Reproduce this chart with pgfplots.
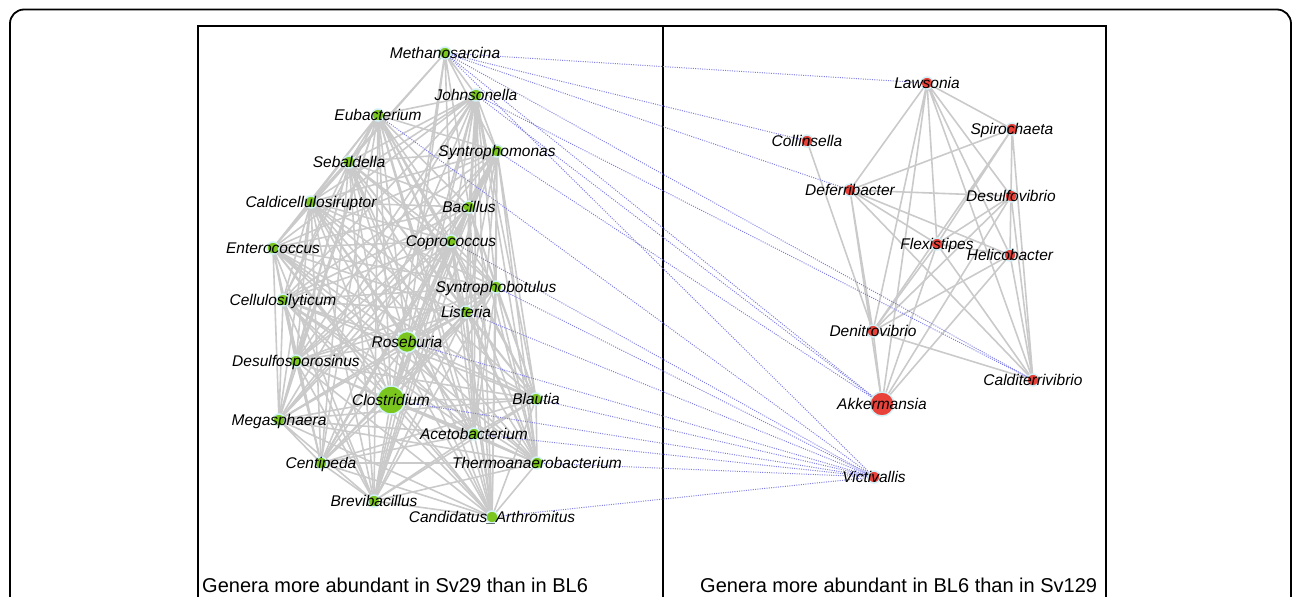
\documentclass[border=0pt]{standalone}
\usepackage{pgfplots}
\pgfplotsset{compat=1.18}
\usepackage{fontspec}
\setmainfont{Liberation Sans}
\definecolor{gnode}{RGB}{122,197,30}
\definecolor{rnode}{RGB}{232,66,58}
\definecolor{halo}{RGB}{210,240,246}
\definecolor{edgegray}{RGB}{202,202,202}
\definecolor{dotblue}{RGB}{125,125,228}
\pgfplotsset{
  gedge/.style={draw=edgegray, line width=1.6pt, line join=round, line cap=round},
  bedge/.style={draw=dotblue, line width=1pt, dash pattern=on 1pt off 1.3pt},
  netnode/.style={only marks, mark=*, mark options={draw=halo, line width=1.5pt, fill=#1},
    point meta=explicit symbolic, nodes near coords,
    every node near coord/.append style={font=\fontsize{15.5}{16}\selectfont\itshape, anchor=base, yshift=-5.5pt, inner sep=0pt, text=black}},
}
\begin{document}
\begin{tikzpicture}
\useasboundingbox (0,0) rectangle (1296pt,597pt);
\clip (0,0) rectangle (1296pt,597pt);
\begin{axis}[
  at={(0,0)}, anchor=south west,
  width=1296pt, height=597pt, scale only axis,
  xmin=0, xmax=1296, ymin=0, ymax=597, y dir=reverse,
  hide axis, clip=false,
]
% frames
\draw[line width=1.8pt, rounded corners=14pt] (axis cs:10,9.5) rectangle (axis cs:1291,660);
\draw[line width=1.4pt] (axis cs:198,650) -- (axis cs:198,26) -- (axis cs:1106,26) -- (axis cs:1106,650);
\draw[line width=1.4pt] (axis cs:663,26) -- (axis cs:663,650);

% ---- gray edges, left network (Sv29) ----
\addplot[gedge] coordinates {(445,53) (476,95) (445,53) (497,151) (445,53) (469,207) (445,53) (451,241) (445,53) (407,342) (445,53) (391,400) (445,53) (349,162) (445,53) (311,202)};
\addplot[gedge] coordinates {(476,95) (378,115) (476,95) (497,151) (476,95) (349,162) (476,95) (311,202) (476,95) (469,207) (476,95) (451,241) (476,95) (273,248) (476,95) (496,287) (476,95) (283,300) (476,95) (466,312) (476,95) (407,342) (476,95) (296,361) (476,95) (391,400) (476,95) (536,399) (476,95) (279,420) (476,95) (474,434) (476,95) (321,463) (476,95) (537,463) (476,95) (374,501) (476,95) (492,517)};
\addplot[gedge] coordinates {(378,115) (497,151) (378,115) (349,162) (378,115) (311,202) (378,115) (469,207) (378,115) (451,241) (378,115) (273,248) (378,115) (496,287) (378,115) (283,300) (378,115) (466,312) (378,115) (407,342) (378,115) (296,361) (378,115) (391,400) (378,115) (536,399) (378,115) (279,420) (378,115) (474,434) (378,115) (321,463) (378,115) (537,463) (378,115) (374,501) (378,115) (492,517)};
\addplot[gedge] coordinates {(497,151) (349,162) (497,151) (311,202) (497,151) (469,207) (497,151) (451,241) (497,151) (273,248) (497,151) (496,287) (497,151) (283,300) (497,151) (466,312) (497,151) (407,342) (497,151) (296,361) (497,151) (391,400) (497,151) (536,399) (497,151) (279,420) (497,151) (474,434) (497,151) (321,463) (497,151) (537,463) (497,151) (374,501) (497,151) (492,517)};
\addplot[gedge] coordinates {(349,162) (311,202) (349,162) (469,207) (349,162) (451,241) (349,162) (273,248) (349,162) (496,287) (349,162) (283,300) (349,162) (466,312) (349,162) (407,342) (349,162) (296,361) (349,162) (391,400) (349,162) (536,399) (349,162) (279,420) (349,162) (474,434) (349,162) (321,463) (349,162) (537,463) (349,162) (374,501) (349,162) (492,517)};
\addplot[gedge] coordinates {(311,202) (469,207) (311,202) (451,241) (311,202) (273,248) (311,202) (496,287) (311,202) (283,300) (311,202) (466,312) (311,202) (407,342) (311,202) (296,361) (311,202) (391,400) (311,202) (536,399) (311,202) (279,420) (311,202) (474,434) (311,202) (321,463) (311,202) (537,463) (311,202) (374,501) (311,202) (492,517)};
\addplot[gedge] coordinates {(469,207) (451,241) (469,207) (273,248) (469,207) (496,287) (469,207) (283,300) (469,207) (466,312) (469,207) (407,342) (469,207) (296,361) (469,207) (391,400) (469,207) (536,399) (469,207) (279,420) (469,207) (474,434) (469,207) (321,463) (469,207) (537,463) (469,207) (374,501) (469,207) (492,517)};
\addplot[gedge] coordinates {(451,241) (273,248) (451,241) (496,287) (451,241) (283,300) (451,241) (466,312) (451,241) (407,342) (451,241) (296,361) (451,241) (391,400) (451,241) (536,399) (451,241) (279,420) (451,241) (474,434) (451,241) (321,463) (451,241) (537,463) (451,241) (374,501) (451,241) (492,517)};
\addplot[gedge] coordinates {(273,248) (496,287) (273,248) (283,300) (273,248) (466,312) (273,248) (407,342) (273,248) (296,361) (273,248) (391,400) (273,248) (536,399) (273,248) (279,420) (273,248) (474,434) (273,248) (321,463) (273,248) (537,463) (273,248) (374,501) (273,248) (492,517)};
\addplot[gedge] coordinates {(496,287) (283,300) (496,287) (466,312) (496,287) (407,342) (496,287) (296,361) (496,287) (391,400) (496,287) (536,399) (496,287) (279,420) (496,287) (474,434) (496,287) (321,463) (496,287) (537,463) (496,287) (374,501) (496,287) (492,517)};
\addplot[gedge] coordinates {(283,300) (466,312) (283,300) (407,342) (283,300) (296,361) (283,300) (391,400) (283,300) (536,399) (283,300) (279,420) (283,300) (474,434) (283,300) (321,463) (283,300) (537,463) (283,300) (374,501) (283,300) (492,517)};
\addplot[gedge] coordinates {(466,312) (407,342) (466,312) (296,361) (466,312) (391,400) (466,312) (536,399) (466,312) (279,420) (466,312) (474,434) (466,312) (321,463) (466,312) (537,463) (466,312) (374,501) (466,312) (492,517)};
\addplot[gedge] coordinates {(407,342) (296,361) (407,342) (391,400) (407,342) (536,399) (407,342) (279,420) (407,342) (474,434) (407,342) (321,463) (407,342) (537,463) (407,342) (374,501) (407,342) (492,517)};
\addplot[gedge] coordinates {(296,361) (391,400) (296,361) (536,399) (296,361) (279,420) (296,361) (474,434) (296,361) (321,463) (296,361) (537,463) (296,361) (374,501) (296,361) (492,517)};
\addplot[gedge] coordinates {(391,400) (536,399) (391,400) (279,420) (391,400) (474,434) (391,400) (321,463) (391,400) (537,463) (391,400) (374,501) (391,400) (492,517)};
\addplot[gedge] coordinates {(536,399) (279,420) (536,399) (474,434) (536,399) (321,463) (536,399) (537,463) (536,399) (374,501) (536,399) (492,517)};
\addplot[gedge] coordinates {(279,420) (474,434) (279,420) (321,463) (279,420) (537,463) (279,420) (374,501) (279,420) (492,517)};
\addplot[gedge] coordinates {(474,434) (321,463) (474,434) (537,463) (474,434) (374,501) (474,434) (492,517)};
\addplot[gedge] coordinates {(321,463) (537,463) (321,463) (374,501) (321,463) (492,517)};
\addplot[gedge] coordinates {(537,463) (374,501) (537,463) (492,517)};
\addplot[gedge] coordinates {(374,501) (492,517)};

% ---- gray edges, right network (BL6) ----
\addplot[gedge] coordinates {(927,83) (850,190) (927,83) (1012,129) (927,83) (1011,196) (927,83) (937,244) (927,83) (1010,255) (927,83) (873,331) (927,83) (1033,380) (927,83) (882,404)};
\addplot[gedge] coordinates {(807,141) (873,331)};
\addplot[gedge] coordinates {(1012,129) (850,190) (1012,129) (1011,196) (1012,129) (937,244) (1012,129) (1010,255) (1012,129) (873,331) (1012,129) (1033,380)};
\addplot[gedge] coordinates {(850,190) (1011,196) (850,190) (937,244) (850,190) (1010,255) (850,190) (1033,380) (850,190) (873,331) (850,190) (882,404)};
\addplot[gedge] coordinates {(1011,196) (937,244) (1011,196) (873,331) (1011,196) (1033,380) (1011,196) (882,404)};
\addplot[gedge] coordinates {(937,244) (1010,255) (937,244) (873,331) (937,244) (882,404) (937,244) (1033,380)};
\addplot[gedge] coordinates {(1010,255) (873,331) (1010,255) (1033,380) (1010,255) (882,404)};
\addplot[gedge] coordinates {(873,331) (1033,380) (873,331) (882,404)};

% ---- blue dotted edges between the two groups (one per edge) ----
\addplot[bedge] coordinates {(445,53) (927,83)};
\addplot[bedge] coordinates {(445,53) (807,141)};
\addplot[bedge] coordinates {(445,53) (850,190)};
\addplot[bedge] coordinates {(445,53) (1033,380)};
\addplot[bedge] coordinates {(445,53) (882,404)};
\addplot[bedge] coordinates {(445,53) (874,477)};
\addplot[bedge] coordinates {(476,95) (1033,380)};
\addplot[bedge] coordinates {(476,95) (882,404)};
\addplot[bedge] coordinates {(497,151) (882,404)};
\addplot[bedge] coordinates {(378,115) (874,477)};
\addplot[bedge] coordinates {(451,241) (874,477)};
\addplot[bedge] coordinates {(496,287) (874,477)};
\addplot[bedge] coordinates {(466,312) (874,477)};
\addplot[bedge] coordinates {(407,342) (874,477)};
\addplot[bedge] coordinates {(391,400) (874,477)};
\addplot[bedge] coordinates {(536,399) (874,477)};
\addplot[bedge] coordinates {(474,434) (874,477)};
\addplot[bedge] coordinates {(537,463) (874,477)};
\addplot[bedge] coordinates {(492,517) (874,477)};

% ---- nodes ----
\addplot[netnode=gnode, mark size=6pt] table[meta=label] {
x y label
445 53 Methanosarcina
476 95 Johnsonella
378 115 Eubacterium
497 151 Syntrophomonas
349 162 Sebaldella
311 202 Caldicellulosiruptor
469 207 Bacillus
451 241 Coprococcus
273 248 Enterococcus
496 287 Syntrophobotulus
283 300 Cellulosilyticum
466 312 Listeria
296 361 Desulfosporosinus
536 399 Blautia
279 420 Megasphaera
474 434 Acetobacterium
321 463 Centipeda
537 463 Thermoanaerobacterium
374 501 Brevibacillus
};
\addplot[netnode=gnode, mark size=6pt] coordinates {(492,517) [Candidatus\_Arthromitus]};
\addplot[netnode=gnode, mark size=10.5pt] coordinates {(407,342) [Roseburia]};
\addplot[netnode=gnode, mark size=14pt] coordinates {(391,400) [Clostridium]};
\addplot[netnode=rnode, mark size=6pt] table[meta=label] {
x y label
927 83 Lawsonia
807 141 Collinsella
1012 129 Spirochaeta
850 190 Deferribacter
1011 196 Desulfovibrio
937 244 Flexistipes
1010 255 Helicobacter
873 331 Denitrovibrio
1033 380 Calditerrivibrio
874 477 Victivallis
};
\addplot[netnode=rnode, mark size=12pt] coordinates {(882,404) [Akkermansia]};

% captions
\node[anchor=base west, inner sep=0pt, font=\fontsize{20}{24}\selectfont] at (axis cs:202,592) {Genera more abundant in Sv29 than in BL6};
\node[anchor=base west, inner sep=0pt, font=\fontsize{20}{24}\selectfont] at (axis cs:700,592) {Genera more abundant in BL6 than in Sv129};
\end{axis}
\end{tikzpicture}
\end{document}
